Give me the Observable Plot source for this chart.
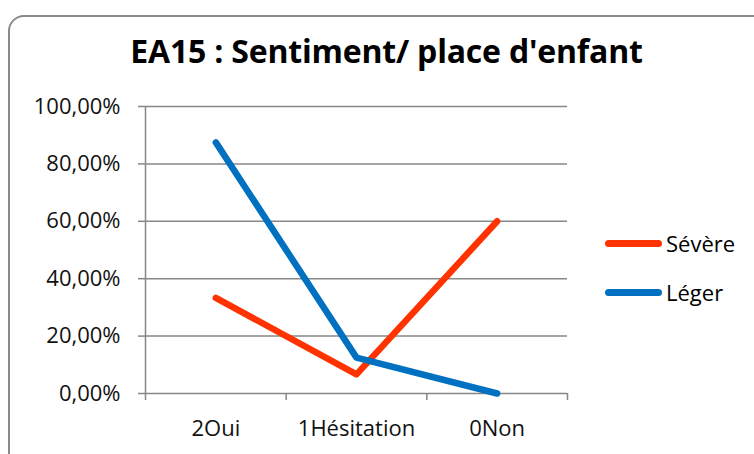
<!DOCTYPE html>
<html>
<head>
<meta charset="utf-8">
<script src="https://cdn.jsdelivr.net/npm/d3@7"></script>
<script src="https://cdn.jsdelivr.net/npm/@observablehq/plot@0.6"></script>
<style>
  html, body { margin: 0; padding: 0; background: #fff; }
  #wrap { position: relative; width: 754px; height: 454px; overflow: hidden; background: #fff; font-family: "Open Sans", sans-serif; }
  #frame { position: absolute; left: 8px; top: 15px; width: 780px; height: 480px; border: 2px solid #8a8a8a; border-radius: 16px; box-sizing: border-box; }
  #title { position: absolute; left: 0; width: 773px; top: 29px; text-align: center; font-weight: bold; font-size: 32px; line-height: 1.36; color: #000; letter-spacing: -0.2px; }
  #chart { position: absolute; left: 0; top: 0; }
  .leg { position: absolute; left: 605px; display: flex; align-items: center; font-size: 22px; line-height: 30px; color: #000; }
  .sw { width: 57px; height: 7px; border-radius: 3.5px; margin-right: 4px; }
</style>
</head>
<body>
<div id="wrap">
  <div id="frame"></div>
  <div id="title">EA15 : Sentiment/ place d'enfant</div>
  <div id="chart"></div>
  <div id="legend"></div>
</div>
<script>
const categories = ["2Oui", "1Hésitation", "0Non"];
const seriesNames = ["Sévère", "Léger"];
const severeValues = [0.3333, 0.0667, 0.60];
const legerValues = [0.875, 0.125, 0.0];
const yTicks = [0, 0.2, 0.4, 0.6, 0.8, 1.0];
const colors = ["#FF3300", "#0070C0"];

const idx = categories.map((c, i) => i);
const boundaries = [-0.5, ...idx.map(i => i + 0.5)];
const data = [
  ...severeValues.map((v, i) => ({series: seriesNames[0], i, v})),
  ...legerValues.map((v, i) => ({series: seriesNames[1], i, v}))
];
const fmt = v => (v * 100).toFixed(2).replace(".", ",") + "%";

const chart = Plot.plot({
  width: 754,
  height: 454,
  marginLeft: 145,
  marginRight: 187,
  marginTop: 106,
  marginBottom: 61,
  style: {fontFamily: "Open Sans, sans-serif", fontSize: "22px", color: "#000", background: "transparent"},
  x: {domain: [-0.5, categories.length - 0.5], axis: null},
  y: {domain: [0, 1], axis: null},
  color: {domain: seriesNames, range: colors},
  marks: [
    Plot.gridY(yTicks.slice(1), {stroke: "#878787", strokeOpacity: 1, strokeWidth: 1.5}),
    Plot.axisY(yTicks, {tickSize: 7, tickPadding: 18, tickFormat: fmt, stroke: "#878787", strokeWidth: 1.5, fill: "#111", fontSize: 22, label: null}),
    Plot.ruleX([boundaries[0]], {stroke: "#878787", strokeWidth: 1.5}),
    Plot.ruleY([0], {stroke: "#878787", strokeWidth: 1.5}),
    Plot.axisX(boundaries, {tickSize: 7, tickFormat: () => "", stroke: "#878787", strokeWidth: 1.5, label: null}),
    Plot.axisX(idx, {tickSize: 0, tickPadding: 27, tickFormat: i => categories[i], fill: "#111", fontSize: 22, label: null}),
    Plot.line(data, {x: "i", y: "v", z: "series", stroke: "series", strokeWidth: 6.5, strokeLinecap: "round", strokeLinejoin: "round"})
  ]
});
document.getElementById("chart").appendChild(chart);

const legend = document.getElementById("legend");
seriesNames.forEach((name, k) => {
  const row = document.createElement("div");
  row.className = "leg";
  row.style.top = (228 + k * 49) + "px";
  row.innerHTML = `<div class="sw" style="background:${colors[k]}"></div><span>${name}</span>`;
  legend.appendChild(row);
});
</script>
</body>
</html>
